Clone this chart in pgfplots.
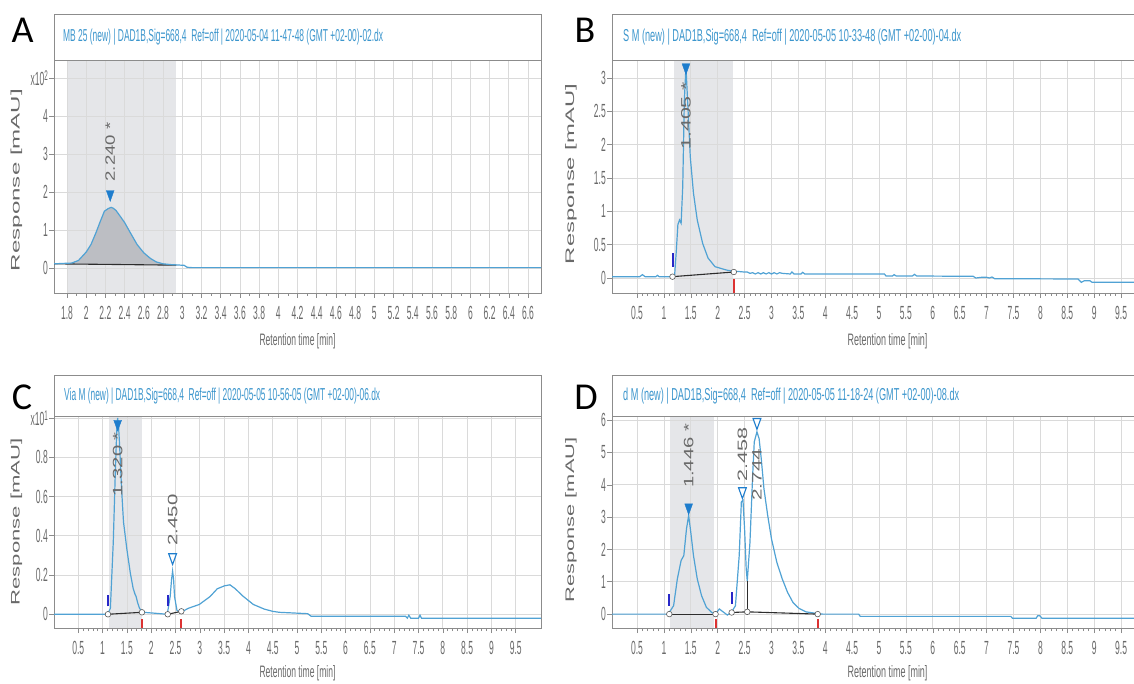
\documentclass[border=0pt]{standalone}
\usepackage{fontspec}
\usepackage{graphicx}
\usepackage{pgfplots}
\pgfplotsset{compat=1.18}
\setmainfont{Liberation Sans}
\newfontfamily\ticksf[FakeStretch=0.45]{Liberation Sans}
\newfontfamily\letterf{Carlito}
\definecolor{curve}{RGB}{80,162,212}
\definecolor{ttl}{RGB}{60,150,205}
\definecolor{tickc}{RGB}{105,105,105}
\definecolor{framec}{RGB}{140,140,140}
\definecolor{gridc}{RGB}{218,218,218}
\definecolor{shade}{RGB}{229,230,233}
\definecolor{peakfill}{RGB}{188,190,195}
\definecolor{tri}{RGB}{30,125,205}
\definecolor{labc}{RGB}{105,105,105}
\definecolor{bmark}{RGB}{40,40,200}
\definecolor{rmark}{RGB}{220,50,50}
\definecolor{basec}{RGB}{45,45,45}
\newcommand{\plab}[2]{\resizebox{#1}{9.5pt}{\color{labc}#2}}
\pgfplotsset{
  chrom/.style={
    scale only axis, set layers,
    axis line style={draw=framec, line width=0.9pt},
    grid=major, major grid style={draw=gridc, line width=0.7pt},
    tick align=outside, xtick pos=bottom, ytick pos=left,
    major tick length=5pt, minor tick length=3pt,
    tick style={draw=framec, line width=0.6pt},
    tick label style={font=\fontsize{19}{19}\selectfont\ticksf, text=tickc},
    xticklabel style={yshift=-7pt, inner sep=1pt},
    yticklabel style={inner sep=1pt},
    /pgf/number format/assume math mode=true,
  },
  curv/.style={draw=curve, line width=1.2pt, no marks},
  band/.style={fill=shade, draw=none, on layer=axis background},
  basel/.style={draw=basec, line width=1.1pt, no marks},
  circ/.style={only marks, mark=*, mark size=2.8pt, mark options={fill=white, draw=gray!70!black, line width=0.6pt}},
  tfill/.style={only marks, mark=triangle*, mark size=4.5pt, mark options={rotate=180, yscale=1.6, fill=tri, draw=tri}},
  topen/.style={only marks, mark=triangle*, mark size=4.5pt, mark options={rotate=180, yscale=1.6, fill=white, draw=tri, line width=1.1pt}},
  bt/.style={draw=bmark, line width=2pt, no marks},
  rt/.style={draw=rmark, line width=2pt, no marks},
}
\newcommand{\bbxticks}{xtick={0.5,1,1.5,2,2.5,3,3.5,4,4.5,5,5.5,6,6.5,7,7.5,8,8.5,9,9.5},
  xticklabels={0.5,1,1.5,2,2.5,3,3.5,4,4.5,5,5.5,6,6.5,7,7.5,8,8.5,9,9.5}, minor x tick num=4}
\begin{document}
\begin{tikzpicture}[x=1pt,y=1pt]
% ---------------- A ----------------
\begin{axis}[chrom, at={(54pt,-293pt)}, anchor=south west, width=487pt, height=233pt,
  xmin=1.665, xmax=6.735, ymin=-0.66, ymax=5.49,
  xtick={1.8,2,2.2,2.4,2.6,2.8,3,3.2,3.4,3.6,3.8,4,4.2,4.4,4.6,4.8,5,5.2,5.4,5.6,5.8,6,6.2,6.4,6.6},
  xticklabels={1.8,2,2.2,2.4,2.6,2.8,3,3.2,3.4,3.6,3.8,4,4.2,4.4,4.6,4.8,5,5.2,5.4,5.6,5.8,6,6.2,6.4,6.6},
  minor x tick num=1,
  ytick={0,1,2,3,4,5}, yticklabels={0,1,2,3,4,{x10\raisebox{5pt}{\fontsize{14}{14}\selectfont 2}}}]
\addplot[band] coordinates {(1.8,-0.66)(2.94,-0.66)(2.94,5.49)(1.8,5.49)} -- cycle;
\addplot[fill=peakfill, draw=none] coordinates {(1.85,0.13)(1.92,0.2)(2.0,0.42)(2.05,0.62)(2.1,0.92)(2.15,1.25)(2.19,1.5)(2.23,1.57)(2.26,1.6)(2.28,1.58)(2.31,1.52)(2.35,1.38)(2.4,1.2)(2.46,0.93)(2.53,0.62)(2.6,0.4)(2.67,0.25)(2.73,0.16)(2.8,0.11)(2.88,0.09)(2.94,0.08)(2.94,0.075)(1.85,0.105)} -- cycle;
\addplot[basel] coordinates {(1.665,0.11)(2.94,0.075)};
\addplot[curv] coordinates {(1.665,0.11)(1.75,0.12)(1.85,0.13)(1.92,0.2)(2.0,0.42)(2.05,0.62)(2.1,0.92)(2.15,1.25)(2.19,1.5)(2.23,1.57)(2.26,1.6)(2.28,1.58)(2.31,1.52)(2.35,1.38)(2.4,1.2)(2.46,0.93)(2.53,0.62)(2.6,0.4)(2.67,0.25)(2.73,0.16)(2.8,0.11)(2.88,0.09)(2.95,0.08)(3.02,0.07)(3.05,0.02)(3.1,0.01)(6.735,0.01)};
\addplot[tfill] coordinates {(2.25,1.95)};
\node[rotate=90, anchor=west, inner sep=0] at (axis cs:2.25,2.28) {\plab{59pt}{2.240 *}};
\end{axis}
% ---------------- B ----------------
\begin{axis}[chrom, at={(612pt,-293pt)}, anchor=south west, width=551pt, height=233pt,
  xmin=0.035, xmax=10.28, ymin=-0.225, ymax=3.27, \bbxticks,
  ytick={0,0.5,1,1.5,2,2.5,3}, yticklabels={0,0.5,1,1.5,2,2.5,3}]
\addplot[band] coordinates {(1.19,-0.225)(2.29,-0.225)(2.29,3.27)(1.19,3.27)} -- cycle;
\addplot[curv] coordinates {(0.035,0.02)(0.55,0.02)(0.6,0.05)(0.65,0.02)(0.85,0.02)(0.88,0.04)(0.91,0.02)(1.15,0.02)(1.2,0.05)(1.23,0.4)(1.26,0.8)(1.29,0.87)(1.32,0.82)(1.35,1.37)(1.38,2.67)(1.41,3.17)(1.45,2.5)(1.49,1.82)(1.55,1.27)(1.62,0.87)(1.72,0.52)(1.82,0.3)(1.95,0.17)(2.16,0.12)(2.29,0.1)(2.35,0.1)(2.49,0.09)(2.55,0.09)(2.6,0.07)(2.65,0.08)(2.7,0.06)(2.75,0.08)(2.8,0.06)(2.85,0.08)(2.9,0.06)(2.95,0.08)(3.0,0.06)(3.05,0.08)(3.1,0.06)(3.15,0.08)(3.2,0.07)(3.35,0.06)(3.38,0.09)(3.42,0.06)(3.55,0.06)(3.58,0.085)(3.62,0.06)(5.1,0.06)(5.13,0.03)(5.25,0.03)(5.28,0.05)(5.32,0.03)(5.62,0.03)(5.66,0.055)(5.7,0.03)(6.75,0.025)(6.8,0.0)(6.9,0.01)(7.0,0.01)(7.05,0.0)(7.1,0.015)(7.15,-0.01)(8.7,-0.015)(8.76,-0.065)(8.82,-0.04)(8.92,-0.04)(8.96,-0.065)(10.28,-0.065)};
\addplot[basel] coordinates {(1.16,0.02)(2.3,0.09)};
\addplot[bt] coordinates {(1.16,0.17)(1.16,0.37)};
\addplot[rt] coordinates {(2.3,-0.02)(2.3,-0.225)};
\addplot[circ] coordinates {(1.16,0.02)(2.3,0.09)};
\addplot[tfill] coordinates {(1.41,3.16)};
\node[rotate=90, anchor=west, inner sep=0] at (axis cs:1.41,1.92) {\plab{68pt}{1.405 *}};
\end{axis}
% ---------------- C ----------------
\begin{axis}[chrom, at={(54pt,-628pt)}, anchor=south west, width=487pt, height=212pt,
  xmin=0, xmax=10.02, ymin=-0.07, ymax=1.01, \bbxticks,
  ytick={0,0.2,0.4,0.6,0.8,1}, yticklabels={0,0.2,0.4,0.6,0.8,{\raisebox{-12pt}{x10\raisebox{5pt}{\fontsize{14}{14}\selectfont 1}}}}]
\addplot[band] coordinates {(1.13,-0.07)(1.81,-0.07)(1.81,1.01)(1.13,1.01)} -- cycle;
\addplot[curv] coordinates {(0,0)(1.1,0)(1.16,0.03)(1.22,0.37)(1.26,0.71)(1.29,0.93)(1.31,1.0)(1.33,0.95)(1.35,0.86)(1.39,0.64)(1.43,0.47)(1.5,0.33)(1.57,0.21)(1.63,0.13)(1.67,0.1)(1.69,0.09)(1.72,0.06)(1.76,0.03)(1.83,0.01)(2.09,0.005)(2.33,0.0)(2.39,0.09)(2.42,0.18)(2.44,0.22)(2.46,0.18)(2.48,0.09)(2.53,0.02)(2.61,0.01)(2.76,0.03)(2.99,0.05)(3.21,0.09)(3.36,0.13)(3.51,0.145)(3.62,0.15)(3.73,0.13)(3.88,0.094)(4.1,0.05)(4.33,0.026)(4.5,0.015)(4.63,0.01)(5.22,0.003)(5.29,-0.01)(7.23,-0.01)(7.27,-0.02)(7.3,-0.005)(7.34,-0.02)(7.5,-0.02)(7.53,-0.005)(7.56,-0.02)(10.02,-0.02)};
\addplot[basel] coordinates {(1.11,0)(1.81,0.01)};
\addplot[basel] coordinates {(2.34,0)(2.62,0.015)};
\addplot[bt] coordinates {(1.11,0.04)(1.11,0.1)};
\addplot[bt] coordinates {(2.34,0.04)(2.34,0.1)};
\addplot[rt] coordinates {(1.81,-0.026)(1.81,-0.07)};
\addplot[rt] coordinates {(2.62,-0.026)(2.62,-0.07)};
\addplot[circ] coordinates {(1.11,0)(1.81,0.01)(2.34,0)(2.62,0.015)};
\addplot[tfill] coordinates {(1.31,0.97)};
\addplot[topen] coordinates {(2.44,0.29)};
\node[rotate=90, anchor=west, inner sep=0] at (axis cs:1.31,0.6) {\plab{64pt}{1.320 *}};
\node[rotate=90, anchor=west, inner sep=0] at (axis cs:2.44,0.35) {\plab{51pt}{2.450}};
\end{axis}
% ---------------- D ----------------
\begin{axis}[chrom, at={(612pt,-628pt)}, anchor=south west, width=551pt, height=212pt,
  xmin=0.035, xmax=10.28, ymin=-0.43, ymax=6.13, \bbxticks,
  ytick={0,1,2,3,4,5,6}, yticklabels={0,1,2,3,4,5,6}]
\addplot[band] coordinates {(1.11,-0.43)(1.94,-0.43)(1.94,6.13)(1.11,6.13)} -- cycle;
\addplot[curv] coordinates {(0.035,0)(1.08,0)(1.18,0.26)(1.25,1.09)(1.32,1.66)(1.37,1.81)(1.42,2.64)(1.46,3.05)(1.5,2.53)(1.55,1.81)(1.62,1.09)(1.7,0.57)(1.79,0.21)(1.89,0.05)(1.96,0)(2.03,0.16)(2.1,0.07)(2.18,-0.03)(2.26,0.07)(2.33,0.26)(2.4,1.81)(2.44,3.47)(2.47,3.52)(2.5,2.64)(2.53,1.4)(2.55,1.03)(2.6,2.22)(2.65,4.29)(2.68,5.33)(2.73,5.64)(2.77,5.43)(2.81,4.81)(2.86,3.88)(2.93,3.05)(3.0,2.33)(3.1,1.6)(3.2,1.09)(3.3,0.67)(3.4,0.36)(3.51,0.18)(3.64,0.07)(3.84,0.02)(3.95,0)(4.62,0)(4.65,-0.07)(7.45,-0.07)(7.48,-0.13)(7.92,-0.13)(7.95,-0.05)(7.99,-0.05)(8.03,-0.13)(10.28,-0.13)};
\addplot[basel] coordinates {(1.1,0)(1.96,0)};
\addplot[basel] coordinates {(2.26,0.05)(2.55,0.07)(3.86,0)};
\addplot[basel] coordinates {(2.55,0.07)(2.55,1.03)};
\addplot[bt] coordinates {(1.1,0.26)(1.1,0.62)};
\addplot[bt] coordinates {(2.26,0.31)(2.26,0.67)};
\addplot[rt] coordinates {(1.96,-0.15)(1.96,-0.43)};
\addplot[rt] coordinates {(3.86,-0.15)(3.86,-0.43)};
\addplot[circ] coordinates {(1.1,0)(1.96,0)(2.26,0.05)(2.55,0.07)(3.86,0)};
\addplot[tfill] coordinates {(1.46,3.3)};
\addplot[topen] coordinates {(2.46,3.8)};
\addplot[topen] coordinates {(2.73,5.94)};
\node[rotate=90, anchor=west, inner sep=0] at (axis cs:1.46,3.9) {\plab{64pt}{1.446 *}};
\node[rotate=90, anchor=west, inner sep=0] at (axis cs:2.46,4.1) {\plab{54pt}{2.458}};
\node[rotate=90, anchor=west, inner sep=0] at (axis cs:2.73,3.5) {\plab{52pt}{2.744}};
\end{axis}
% ---------------- frames, titles, labels ----------------
\draw[framec, line width=0.9pt, fill=white] (54,-14) rectangle (541,-60);
\draw[framec, line width=0.9pt, fill=white] (612,-14) rectangle (1163,-60);
\draw[framec, line width=0.9pt, fill=white] (54,-375) rectangle (541,-416);
\draw[framec, line width=0.9pt, fill=white] (612,-375) rectangle (1163,-416);
\node[anchor=west, inner sep=0, text=ttl] at (63,-37) {\resizebox{320pt}{12.5pt}{MB 25 (new) | DAD1B,Sig=668,4\ \ Ref=off | 2020-05-04 11-47-48 (GMT +02-00)-02.dx}};
\node[anchor=west, inner sep=0, text=ttl] at (623,-37) {\resizebox{338pt}{12.5pt}{S M (new) | DAD1B,Sig=668,4\ \ Ref=off | 2020-05-05 10-33-48 (GMT +02-00)-04.dx}};
\node[anchor=west, inner sep=0, text=ttl] at (64,-396) {\resizebox{316pt}{12.5pt}{Via M (new) | DAD1B,Sig=668,4\ \ Ref=off | 2020-05-05 10-56-05 (GMT +02-00)-06.dx}};
\node[anchor=west, inner sep=0, text=ttl] at (623,-396) {\resizebox{336pt}{12.5pt}{d M (new) | DAD1B,Sig=668,4\ \ Ref=off | 2020-05-05 11-18-24 (GMT +02-00)-08.dx}};
\node[inner sep=0, rotate=90, text=tickc] at (16.5,-180) {\resizebox{182pt}{9pt}{Response [mAU]}};
\node[inner sep=0, rotate=90, text=tickc] at (571,-174) {\resizebox{180pt}{9pt}{Response [mAU]}};
\node[inner sep=0, rotate=90, text=tickc] at (16.5,-522) {\resizebox{167pt}{9pt}{Response [mAU]}};
\node[inner sep=0, rotate=90, text=tickc] at (571,-520) {\resizebox{165pt}{9pt}{Response [mAU]}};
\node[inner sep=0, text=tickc] at (297.5,-341) {\resizebox{76pt}{12pt}{Retention time [min]}};
\node[inner sep=0, text=tickc] at (887.5,-341) {\resizebox{80pt}{12pt}{Retention time [min]}};
\node[inner sep=0, text=tickc] at (297.5,-673) {\resizebox{76pt}{12pt}{Retention time [min]}};
\node[inner sep=0, text=tickc] at (887.5,-673) {\resizebox{80pt}{12pt}{Retention time [min]}};
\node[inner sep=0, font=\letterf\fontsize{38}{40}\selectfont] at (22.5,-30.5) {A};
\node[inner sep=0, font=\letterf\fontsize{38}{40}\selectfont] at (585,-30) {B};
\node[inner sep=0, font=\letterf\fontsize{38}{40}\selectfont] at (22,-397) {C};
\node[inner sep=0, font=\letterf\fontsize{38}{40}\selectfont] at (586,-397) {D};
\pgfresetboundingbox
\path[use as bounding box] (0,0) rectangle (1134,-684);
\end{tikzpicture}
\end{document}
